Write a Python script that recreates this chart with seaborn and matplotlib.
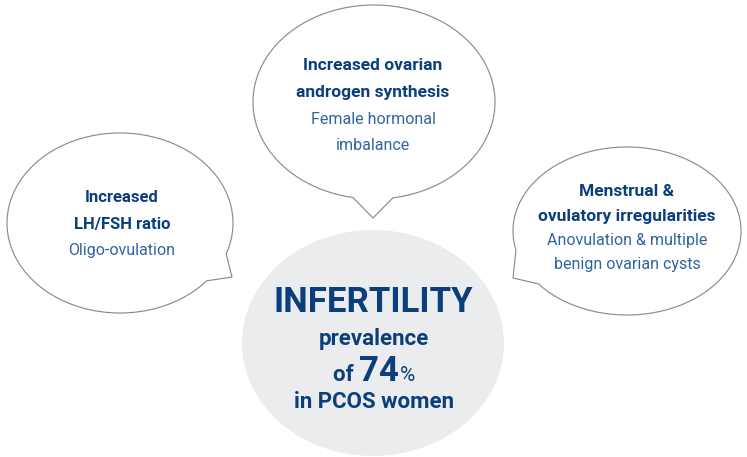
import numpy as np
import matplotlib
matplotlib.use("Agg")
import matplotlib.pyplot as plt
from matplotlib.patches import Polygon, Ellipse
import seaborn as sns

# bubble texts (bold heading lines, regular sub lines)
left_bold = ["Increased", "LH/FSH ratio"]
left_sub = ["Oligo-ovulation"]
top_bold = ["Increased ovarian", "androgen synthesis"]
top_sub = ["Female hormonal", "imbalance"]
right_bold = ["Menstrual &", "ovulatory irregularities"]
right_sub = ["Anovulation & multiple", "benign ovarian cysts"]
center_title = "INFERTILITY"
center_lines = ["prevalence", "in PCOS women"]
prevalence_pct = 74

DARK = "#0b3f7c"
MID = "#2f64a0"
EDGE = "#8c8c8c"
FILL = "#ebeced"

sns.set_theme(style="white")
plt.rcParams['font.family'] = ['Roboto', 'DejaVu Sans']


def bubble(ax, cx, cy, rx, ry, a1, a2, tip):
    """ellipse outline with a speech tail between angles a1 -> a2 (deg, y down)"""
    t = np.radians(np.linspace(a2, a1 + 360, 300))
    pts = list(zip(cx + rx * np.cos(t), cy + ry * np.sin(t)))
    pts.append(tip)
    ax.add_patch(Polygon(pts, closed=True, facecolor="white", edgecolor=EDGE, lw=0.85))


def block(ax, x, ys, bold, sub, bsize, ssize):
    lines = [(s, "bold", DARK, bsize) for s in bold] + [(s, "normal", MID, ssize) for s in sub]
    for y, (s, w, c, fs) in zip(ys, lines):
        ax.text(x, y, s, ha="center", va="center", fontsize=fs, fontweight=w, color=c)


fig = plt.figure(figsize=(7.47, 4.57), dpi=100)
ax = fig.add_axes([0, 0, 1, 1])
ax.set_xlim(0, 747)
ax.set_ylim(457, 0)
ax.axis("off")

bubble(ax, 120, 223, 113, 90, 20, 40, (232, 277))
bubble(ax, 374, 102, 121, 97, 81, 100, (373, 218))
bubble(ax, 627, 231, 114, 84, 141, 167, (513, 278))
ax.add_patch(Ellipse((373, 343), 262, 226, facecolor=FILL, edgecolor="none"))

block(ax, 122, [197, 224, 251], left_bold, left_sub, 12, 11.5)
block(ax, 373, [65, 93, 119, 145], top_bold, top_sub, 12.5, 11.5)
block(ax, 627, [192, 216, 240, 264], right_bold, right_sub, 12.5, 11.5)

ax.text(373, 302, center_title, ha="center", va="center", fontsize=25, fontweight="bold", color=DARK)
ax.text(374, 339, center_lines[0], ha="center", va="center", fontsize=16, fontweight="bold", color=DARK)
ax.text(374, 402, center_lines[1], ha="center", va="center", fontsize=16, fontweight="bold", color=DARK)

# "of 74%" built from three pieces on one baseline
t_of = ax.text(0, 381, "of ", ha="left", va="baseline", fontsize=16, fontweight="bold", color=DARK)
t_num = ax.text(0, 381, str(prevalence_pct), ha="left", va="baseline", fontsize=25, fontweight="bold", color=DARK)
t_pc = ax.text(0, 381, "%", ha="left", va="baseline", fontsize=15, color=DARK)
fig.canvas.draw()
r = fig.canvas.get_renderer()
inv = ax.transData.inverted()
widths = []
for t in (t_of, t_num, t_pc):
    bb = t.get_window_extent(r)
    x0 = inv.transform((bb.x0, 0))[0]
    x1 = inv.transform((bb.x1, 0))[0]
    widths.append(x1 - x0)
gap = 1.5
total = sum(widths) + gap
x = 374 - total / 2
t_of.set_x(x)
x += widths[0]
t_num.set_x(x)
x += widths[1] + gap
t_pc.set_x(x)

fig.savefig("out.png", dpi=100)
